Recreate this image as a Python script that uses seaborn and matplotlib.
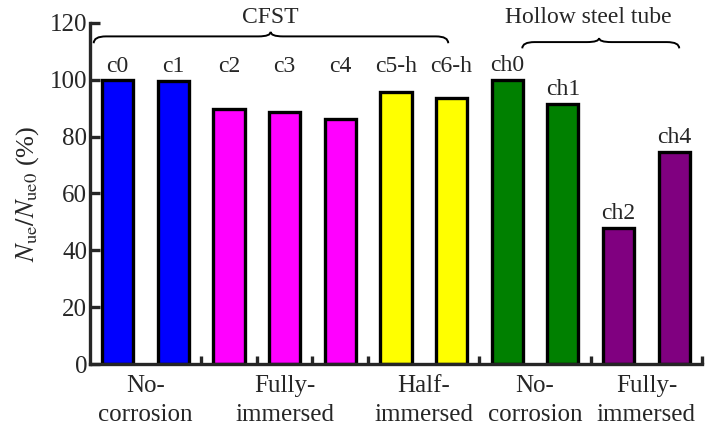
import numpy as np
import pandas as pd
import seaborn as sns
import matplotlib
matplotlib.use("Agg")
import matplotlib.pyplot as plt
from matplotlib.path import Path
from matplotlib.patches import PathPatch

specimens = ["c0", "c1", "c2", "c3", "c4", "c5-h", "c6-h", "ch0", "ch1", "ch2", "ch4"]
ratios = [100.0, 99.5, 89.8, 88.7, 86.2, 95.7, 93.5, 100.0, 91.3, 48.0, 74.5]
bar_colors = ["#0000FF", "#0000FF", "#FF00FF", "#FF00FF", "#FF00FF",
              "#FFFF00", "#FFFF00", "#008000", "#008000", "#800080", "#800080"]
condition_labels = ["No-\ncorrosion", "Fully-\nimmersed", "Half-\nimmersed",
                    "No-\ncorrosion", "Fully-\nimmersed"]
condition_pos = [0.5, 3.0, 5.5, 7.5, 9.5]
yticks = [0, 20, 40, 60, 80, 100, 120]
group_titles = ["CFST", "Hollow steel tube"]

sns.set_style("ticks")
plt.rcParams["font.family"] = ["Liberation Serif", "DejaVu Serif"]
plt.rcParams["mathtext.fontset"] = "stix"

df = pd.DataFrame({"specimen": specimens, "ratio": ratios})

fig = plt.figure(figsize=(7.07, 4.29), dpi=100)
ax = fig.add_axes([0.127, 0.151, 0.866, 0.796])

sns.barplot(data=df, x="specimen", y="ratio", hue="specimen",
            palette=dict(zip(specimens, bar_colors)), order=specimens,
            legend=False, width=0.56, edgecolor="black", linewidth=2.4,
            saturation=1, ax=ax)

ax.set_xlim(-0.5, 10.5)
ax.set_ylim(0, 120)
ax.set_yticks(yticks)
ax.set_yticklabels([str(t) for t in yticks], fontsize=18)
ax.tick_params(axis="y", direction="in", length=7, width=2.4, pad=2)

ax.set_xticks(condition_pos)
ax.set_xticklabels(condition_labels, fontsize=18, linespacing=1.4)
ax.tick_params(axis="x", which="major", length=0, pad=8)
ax.set_xticks(np.arange(len(specimens)) + 0.5, minor=True)
ax.tick_params(axis="x", which="minor", direction="in", length=6, width=2.4)
ax.set_xlabel("")
ax.set_ylabel(r"$N_{\mathrm{ue}}/N_{\mathrm{ue0}}$ (%)", fontsize=19, labelpad=6)

for s in ["top", "right"]:
    ax.spines[s].set_visible(False)
for s in ["left", "bottom"]:
    ax.spines[s].set_linewidth(2.4)

# bar labels
for i, (name, v) in enumerate(zip(specimens, ratios)):
    if name.startswith("ch"):
        ly = v + 3.2
    else:
        ly = 102.6
    ax.text(i, ly, name, ha="center", va="baseline", fontsize=17)


def brace(ax, x0, x1, xm, y_end, y_body, y_tip, rx=0.22):
    verts = [(x0, y_end), (x0, y_body), (x0 + rx, y_body),
             (xm - rx, y_body), (xm, y_body), (xm, y_tip),
             (xm, y_body), (xm + rx, y_body),
             (x1 - rx, y_body), (x1, y_body), (x1, y_end)]
    codes = [Path.MOVETO, Path.CURVE3, Path.CURVE3,
             Path.LINETO, Path.CURVE3, Path.CURVE3,
             Path.CURVE3, Path.CURVE3,
             Path.LINETO, Path.CURVE3, Path.CURVE3]
    p = PathPatch(Path(verts, codes), fill=False, lw=1.4, color="black",
                  clip_on=False)
    ax.add_patch(p)


brace(ax, -0.43, 5.94, 2.75, 112.8, 115.2, 116.8)
brace(ax, 7.27, 10.09, 8.65, 111.0, 113.2, 114.6)
ax.text(2.75, 120.0, group_titles[0], ha="center", va="baseline", fontsize=17)
ax.text(8.45, 120.0, group_titles[1], ha="center", va="baseline", fontsize=17)

fig.savefig("out.png", dpi=100)
